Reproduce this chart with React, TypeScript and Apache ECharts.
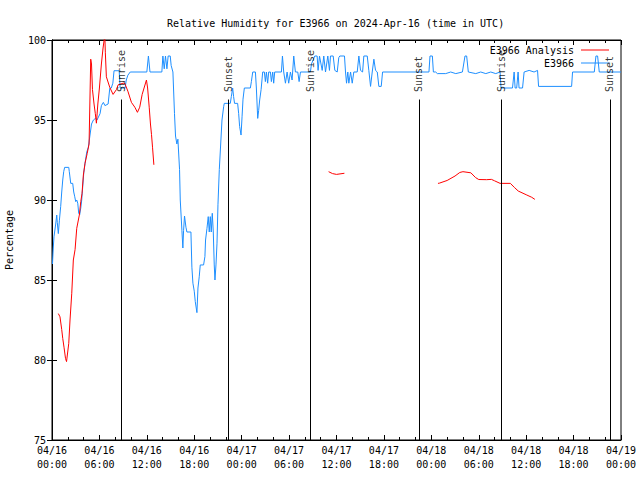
import React, { useEffect, useRef } from 'react';
import * as echarts from 'echarts';

const FONT = '"DejaVu Sans Mono", "Liberation Mono", monospace';
const TITLE = 'Relative Humidity for E3966 on 2024-Apr-16 (time in UTC)';

const xTickLabels = [
  '04/16\n00:00', '04/16\n06:00', '04/16\n12:00', '04/16\n18:00',
  '04/17\n00:00', '04/17\n06:00', '04/17\n12:00', '04/17\n18:00',
  '04/18\n00:00', '04/18\n06:00', '04/18\n12:00', '04/18\n18:00',
  '04/19\n00:00',
];

const eventHours = [8.81, 22.35, 32.7, 46.43, 56.88, 70.6];
const eventNames = ['Sunrise', 'Sunset', 'Sunrise', 'Sunset', 'Sunrise', 'Sunset'];

// hours since 04/16 00:00 UTC, relative humidity (%)
const observed: [number, number][] = [
  [0.06, 86.0], [0.16, 87.0], [0.25, 87.7], [0.47, 88.5], [0.6, 89.06], [0.67, 88.6],
  [0.8, 87.9], [0.93, 88.7], [1.1, 89.6], [1.23, 90.5], [1.36, 91.25], [1.48, 91.77],
  [1.6, 92.04], [2.12, 92.04], [2.19, 91.77], [2.37, 91.04], [2.62, 91.04], [2.75, 90.5],
  [2.88, 90.2], [3.0, 89.9], [3.13, 90.0], [3.26, 89.8], [3.38, 89.17], [3.51, 89.1],
  [3.64, 89.5], [3.76, 90.0], [4.02, 91.7], [4.18, 92.3], [4.4, 93.0], [4.6, 93.3],
  [5.0, 94.75], [5.24, 95.0], [5.5, 95.1], [5.7, 95.0], [6.08, 95.4], [6.25, 95.9],
  [6.5, 96.1], [6.7, 95.9], [7.1, 96.0], [7.31, 96.98], [7.5, 97.0], [7.7, 97.3],
  [7.85, 98.08], [8.5, 98.08], [8.62, 97.0], [9.25, 97.0], [9.4, 97.5], [9.6, 97.8],
  [9.9, 98.0], [12.0, 98.0], [12.2, 99.0], [12.4, 98.0], [13.9, 98.0],
  [14.03, 99.0], [14.2, 98.2], [14.36, 99.0], [14.54, 98.2], [14.7, 99.0], [14.96, 99.0],
  [15.08, 98.4], [15.3, 98.0], [15.5, 95.4], [15.63, 94.0], [15.8, 93.5], [15.93, 93.8],
  [16.14, 91.9], [16.23, 90.0], [16.44, 88.1], [16.56, 87.0], [16.65, 88.1], [16.77, 89.0],
  [16.95, 88.3], [17.07, 88.0], [17.58, 88.0], [17.7, 85.8], [17.83, 84.8], [18.0, 84.3],
  [18.13, 83.65], [18.34, 82.96], [18.47, 84.5], [18.63, 85.2], [18.76, 85.94], [19.18, 85.94],
  [19.35, 86.46], [19.43, 87.5], [19.61, 88.23], [19.77, 88.96], [19.9, 88.0], [20.03, 88.96],
  [20.15, 88.0], [20.28, 89.17], [20.41, 88.0], [20.53, 85.94], [20.62, 85.0], [20.75, 85.94],
  [20.88, 87.3], [21.0, 89.7], [21.17, 91.9], [21.51, 95.0], [21.72, 95.83], [21.8, 96.04],
  [22.56, 96.04], [22.69, 96.46], [22.86, 97.0], [22.98, 96.46], [23.1, 96.04], [23.49, 96.04],
  [23.62, 95.4], [23.74, 94.6], [23.92, 94.06], [24.05, 95.2], [24.17, 96.3], [24.34, 97.0],
  [25.1, 97.0], [25.23, 97.4], [25.4, 98.0], [25.74, 98.0], [25.86, 97.0], [26.03, 95.1],
  [26.15, 95.6], [26.28, 96.25], [26.46, 96.9], [26.66, 98.0], [26.87, 98.0], [27.0, 97.4],
  [27.13, 98.0], [27.29, 97.3], [27.42, 98.0], [27.64, 98.0], [27.76, 97.4], [27.93, 98.0],
  [28.05, 97.3], [28.18, 98.0], [29.03, 98.0], [29.16, 99.0], [29.32, 98.0], [29.54, 97.3],
  [29.75, 98.0], [29.95, 97.3], [30.17, 98.0], [30.38, 97.5], [30.59, 99.0], [30.8, 98.0],
  [31.1, 98.0], [31.27, 97.4], [31.44, 98.0], [32.7, 98.0], [32.83, 98.5], [33.25, 99.0],
  [33.55, 99.0], [33.67, 98.1], [33.85, 99.0], [34.19, 98.1], [34.39, 99.0], [34.61, 98.0],
  [34.9, 99.0], [35.11, 98.1], [35.24, 99.0], [35.58, 99.0], [35.79, 98.1], [36.09, 98.0],
  [36.29, 98.9], [36.42, 99.0], [37.01, 99.0], [37.14, 98.0], [37.27, 97.3], [37.43, 98.0],
  [37.56, 97.3], [37.78, 98.0], [37.99, 97.3], [38.19, 98.0], [38.62, 98.0], [38.83, 99.0],
  [39.04, 98.1], [39.3, 98.0], [39.46, 99.0], [39.89, 99.0], [40.09, 98.1], [40.31, 97.1],
  [40.52, 98.0], [40.73, 98.8], [40.94, 98.1], [41.16, 98.0], [41.36, 97.1], [41.66, 97.1],
  [41.83, 98.0], [47.7, 98.0], [47.83, 99.0], [48.13, 99.0], [48.26, 98.0], [48.55, 98.0],
  [48.76, 97.9], [49.82, 97.9], [50.45, 98.0], [51.09, 97.9], [51.93, 98.0], [52.26, 99.0],
  [52.47, 99.0], [52.68, 98.0], [53.62, 97.9], [54.25, 98.0], [54.89, 97.9], [55.52, 98.0],
  [56.15, 97.9], [56.7, 98.0], [56.82, 97.0], [58.27, 97.0], [58.48, 98.0], [58.6, 97.0],
  [58.8, 97.0], [58.98, 98.0], [59.1, 97.0], [59.54, 97.0], [59.74, 98.0], [60.38, 98.1],
  [61.0, 98.0], [61.44, 98.1], [61.57, 97.1], [65.75, 97.1], [65.87, 98.0], [68.62, 98.0],
  [68.83, 99.0], [69.04, 99.0], [69.25, 98.0], [72.0, 98.0],
];

const analysis1: [number, number][] = [
  [0.8, 82.9], [1.01, 82.7], [1.23, 81.9], [1.36, 81.35], [1.52, 80.8], [1.71, 80.1],
  [1.84, 79.9], [2.12, 81.04], [2.28, 82.5], [2.5, 84.17], [2.7, 86.25], [2.92, 86.9],
  [3.13, 88.23], [3.46, 89.06], [3.64, 89.9], [3.8, 90.4], [3.97, 91.56], [4.18, 92.3],
  [4.45, 92.9], [4.69, 93.5], [4.9, 98.8], [5.0, 98.5], [5.12, 96.9], [5.32, 96.0],
  [5.48, 95.4], [5.62, 94.8], [5.8, 96.0], [6.0, 97.0], [6.25, 98.5], [6.46, 99.5],
  [6.68, 100.3], [6.75, 99.2], [6.88, 97.7], [7.31, 97.04], [7.73, 96.6], [8.15, 96.9],
  [8.37, 97.2], [9.0, 97.3], [9.2, 97.3], [9.6, 96.8], [10.05, 96.1], [10.48, 95.8],
  [10.81, 95.48], [11.1, 95.8], [11.41, 96.6], [11.95, 97.5], [12.1, 97.0], [12.3, 95.8],
  [12.46, 94.75], [12.59, 94.1], [12.72, 93.3], [12.89, 92.2],
];

const analysis2: [number, number][] = [
  [35.0, 91.77], [35.5, 91.65], [36.0, 91.6], [37.0, 91.67],
];

const analysis3: [number, number][] = [
  [48.84, 91.04], [49.0, 91.05], [50.0, 91.22], [51.0, 91.5], [51.6, 91.72], [52.0, 91.77],
  [53.0, 91.7], [53.6, 91.4], [54.0, 91.28], [55.0, 91.27], [55.6, 91.29], [56.0, 91.2],
  [56.7, 91.04], [58.0, 91.04], [58.5, 90.79], [59.0, 90.56], [60.0, 90.33], [60.7, 90.17],
  [61.1, 90.04],
];

const RED = '#ff0000';
const BLUE = '#1e8fff';

export default function App() {
  const ref = useRef<HTMLDivElement>(null);
  useEffect(() => {
    if (!ref.current) return;
    const chart = echarts.init(ref.current, undefined, { renderer: 'svg' });
    const axisCommon = {
      type: 'value' as const,
      axisLine: { show: true, lineStyle: { color: '#000', width: 1 } },
      splitLine: { show: false },
    };
    const redLine = (data: [number, number][]) => ({
      name: 'E3966 Analysis',
      type: 'line',
      data,
      symbol: 'none',
      showSymbol: false,
      lineStyle: { color: RED, width: 1 },
      itemStyle: { color: RED },
      z: 3,
    });
    chart.setOption({
      animation: false,
      backgroundColor: '#fff',
      title: {
        text: TITLE,
        left: 162,
        top: 13,
        textStyle: { fontFamily: FONT, fontSize: 10, fontWeight: 'normal', color: '#000' },
      },
      legend: {
        data: [
          { name: 'E3966 Analysis', icon: 'rect' },
          { name: 'E3966', icon: 'rect' },
        ],
        orient: 'vertical',
        right: 31,
        top: 44,
        align: 'right',
        itemWidth: 28,
        itemHeight: 1,
        itemGap: 1,
        padding: 0,
        textStyle: { fontFamily: FONT, fontSize: 10, color: '#000', lineHeight: 12, padding: [0, 2, 0, 0] },
      },
      grid: {
        left: 52,
        right: 19,
        top: 40,
        bottom: 40,
        outerBoundsMode: 'none',
        containLabel: false,
        show: true,
        borderColor: '#000',
        borderWidth: 1,
        backgroundColor: 'transparent',
      },
      xAxis: [
        {
          ...axisCommon,
          min: 0,
          max: 72,
          interval: 6,
          axisTick: { show: true, inside: true, length: 5, lineStyle: { color: '#000' } },
          minorTick: { show: true, splitNumber: 3, length: 3, lineStyle: { color: '#000' } },
          axisLabel: {
            fontFamily: FONT,
            fontSize: 10,
            color: '#000',
            lineHeight: 14,
            margin: 3,
            formatter: (v: number) => xTickLabels[Math.round(v / 6)] ?? '',
          },
        },
        {
          ...axisCommon,
          position: 'top',
          min: 0,
          max: 72,
          interval: 6,
          axisTick: { show: true, inside: true, length: 5, lineStyle: { color: '#000' } },
          minorTick: { show: true, splitNumber: 3, length: 3, lineStyle: { color: '#000' } },
          axisLabel: { show: false },
        },
      ],
      yAxis: [
        {
          ...axisCommon,
          min: 75,
          max: 100,
          interval: 5,
          name: 'Percentage',
          nameLocation: 'middle',
          nameGap: 38,
          nameRotate: 90,
          nameTextStyle: { fontFamily: FONT, fontSize: 10, color: '#000' },
          axisTick: { show: true, inside: true, length: 5, lineStyle: { color: '#000' } },
          axisLabel: { fontFamily: FONT, fontSize: 10, color: '#000', margin: 6 },
        },
        {
          ...axisCommon,
          position: 'right',
          min: 75,
          max: 100,
          interval: 5,
          axisTick: { show: true, inside: true, length: 5, lineStyle: { color: '#000' } },
          axisLabel: { show: false },
        },
      ],
      series: [
        redLine(analysis1),
        redLine(analysis2),
        redLine(analysis3),
        {
          name: 'E3966',
          type: 'line',
          data: observed,
          symbol: 'none',
          showSymbol: false,
          lineStyle: { color: BLUE, width: 1 },
          itemStyle: { color: BLUE },
          z: 2,
        },
        {
          name: 'events',
          type: 'scatter',
          data: eventHours.map((h) => [h, 96.75]),
          symbolSize: 0,
          silent: true,
          z: 4,
          label: {
            show: true,
            position: 'inside',
            rotate: 90,
            align: 'left',
            verticalAlign: 'middle',
            fontFamily: FONT,
            fontSize: 10,
            color: '#000',
            formatter: (p: any) => eventNames[p.dataIndex],
          },
          markLine: {
            silent: true,
            symbol: ['none', 'none'],
            label: { show: false },
            lineStyle: { color: '#000', width: 1, type: 'solid' },
            emphasis: { disabled: true },
            data: eventHours.map((h) => [{ coord: [h, 75] }, { coord: [h, 96.28] }]),
          },
        },
      ],
    });
    return () => chart.dispose();
  }, []);
  return (
    <div
      ref={ref}
      style={{ position: 'fixed', left: 0, top: 0, width: 640, height: 480 }}
    />
  );
}
